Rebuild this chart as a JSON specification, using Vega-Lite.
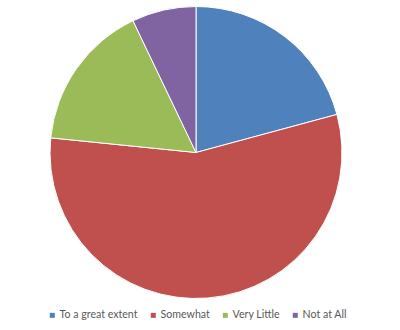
{
  "$schema": "https://vega.github.io/schema/vega-lite/v6.json",
  "width": 392,
  "height": 305,
  "padding": {"top": 0, "left": 0, "right": 8, "bottom": 25},
  "autosize": {"type": "none"},
  "background": "white",
  "data": {
    "values": [
      {"category": "To a great extent", "rank": 1, "value": 20.8},
      {"category": "Somewhat", "rank": 2, "value": 55.8},
      {"category": "Very Little", "rank": 3, "value": 16.3},
      {"category": "Not at All", "rank": 4, "value": 7.1}
    ]
  },
  "mark": {"type": "arc", "radius": 146, "stroke": "white", "strokeWidth": 1},
  "encoding": {
    "theta": {"field": "value", "type": "quantitative", "stack": true},
    "order": {"field": "rank", "type": "quantitative", "sort": "ascending"},
    "color": {
      "field": "category",
      "type": "nominal",
      "sort": ["To a great extent", "Somewhat", "Very Little", "Not at All"],
      "scale": {
        "domain": ["To a great extent", "Somewhat", "Very Little", "Not at All"],
        "range": ["#4F81BD", "#C0504D", "#9BBB59", "#8064A2"]
      },
      "legend": {
        "title": null,
        "orient": "none",
        "direction": "horizontal",
        "legendX": 47,
        "legendY": 310,
        "symbolType": "square",
        "symbolSize": 25,
        "symbolStrokeWidth": 0,
        "labelFont": "Lato",
        "labelFontSize": 10.6,
        "labelColor": "#595959",
        "labelOffset": 2,
        "columnPadding": 10
      }
    }
  }
}
